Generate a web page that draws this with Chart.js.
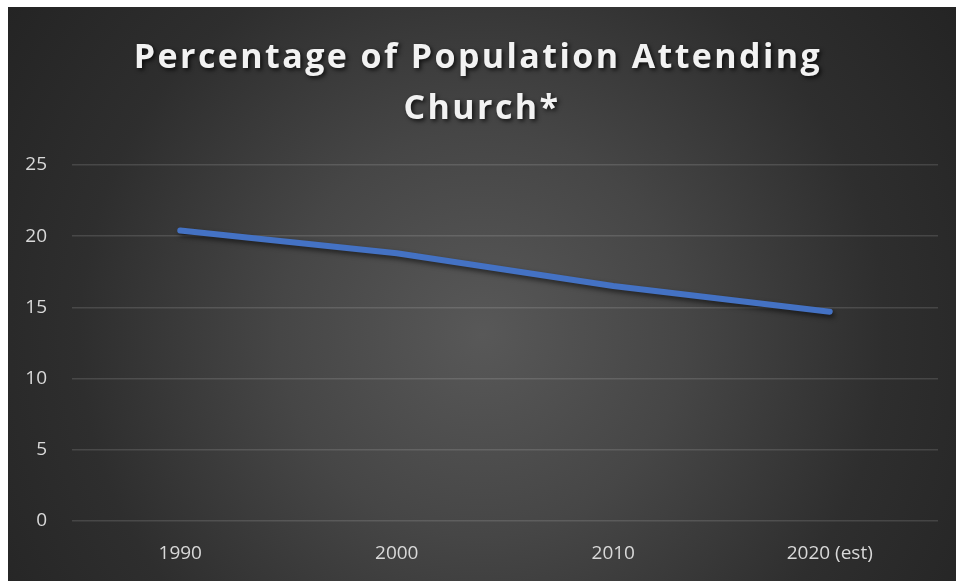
<!DOCTYPE html>
<html>
<head>
<meta charset="utf-8">
<script src="https://cdn.jsdelivr.net/npm/chart.js@4"></script>
<style>
    html, body { margin: 0; padding: 0; background: #ffffff; }
    #wrap {
        position: absolute;
        left: 8px;
        top: 7px;
        width: 948px;
        height: 574px;
        background: radial-gradient(circle at 50% 57%, #585858 0%, #464646 35%, #2e2e2e 70%, #242424 100%);
    }
</style>
</head>
<body>
<div id="wrap"><canvas id="attendance"></canvas></div>
<script>
// attendance data
let years = ['1990', '2000', '2010', '2020 (est)']
let attending = [20.4, 18.8, 16.5, 14.7]
let titleLines = ['Percentage of Population Attending', 'Church*']

// title drawn with letter spacing + drop shadow
let titlePlugin = {
    id: 'spacedTitle',
    afterDraw(chart) {
        let ctx = chart.ctx
        ctx.save()
        ctx.font = 'bold 34px "Open Sans"'
        ctx.fillStyle = '#f2f2f2'
        ctx.textAlign = 'center'
        ctx.textBaseline = 'middle'
        ctx.letterSpacing = '2.4px'
        ctx.shadowColor = 'rgba(0,0,0,0.75)'
        ctx.shadowBlur = 4
        ctx.shadowOffsetX = 2
        ctx.shadowOffsetY = 2
        let cx = chart.width / 2 - 4
        ctx.fillText(titleLines[0], cx, 51)
        ctx.fillText(titleLines[1], cx + 4, 102)
        ctx.restore()
    }
}

// soft shadow under the line
let lineShadow = {
    id: 'lineShadow',
    beforeDatasetDraw(chart) {
        let ctx = chart.ctx
        ctx.save()
        ctx.shadowColor = 'rgba(0,0,0,0.55)'
        ctx.shadowBlur = 5
        ctx.shadowOffsetX = 2
        ctx.shadowOffsetY = 3
    },
    afterDatasetDraw(chart) {
        chart.ctx.restore()
    }
}

var attendance_ctx = document.getElementById('attendance')
var attendance = new Chart(attendance_ctx, {
    type: 'line',
    data: {
        labels: years,
        datasets: [{
            label: 'Attending church',
            data: attending,
            borderColor: '#4472C4',
            borderWidth: 6,
            borderCapStyle: 'round',
            borderJoinStyle: 'round',
            pointRadius: 0,
            tension: 0
        }]
    },
    options: {
        responsive: true,
        maintainAspectRatio: false,
        animation: false,
        layout: {
            padding: { top: 158, right: 18, bottom: 0, left: 0 }
        },
        plugins: {
            legend: { display: false },
            tooltip: { enabled: false },
            title: { display: false }
        },
        scales: {
            x: {
                offset: true,
                grid: { display: false, drawTicks: false },
                border: { display: false },
                ticks: {
                    color: '#d9d9d9',
                    font: { family: 'Open Sans', size: 19 },
                    padding: 21
                },
                afterFit(scale) { scale.height = 60 }
            },
            y: {
                min: 0,
                max: 25,
                grid: {
                    color: 'rgba(255,255,255,0.13)',
                    lineWidth: 1.5,
                    drawTicks: false
                },
                border: { display: false },
                ticks: {
                    stepSize: 5,
                    color: '#d9d9d9',
                    font: { family: 'Open Sans', size: 19 },
                    padding: 25
                },
                afterFit(scale) { scale.width = 64 }
            }
        }
    },
    plugins: [lineShadow, titlePlugin]
})
</script>
</body>
</html>
